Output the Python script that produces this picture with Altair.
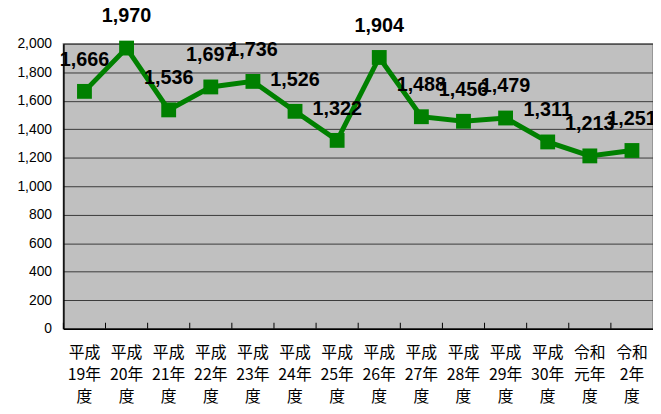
import altair as alt
import pandas as pd

categories = ["平成19年度", "平成20年度", "平成21年度", "平成22年度", "平成23年度",
              "平成24年度", "平成25年度", "平成26年度", "平成27年度", "平成28年度",
              "平成29年度", "平成30年度", "令和元年度", "令和2年度"]
values = [1666, 1970, 1536, 1697, 1736, 1526, 1322, 1904, 1488, 1456, 1479, 1311, 1213, 1251]
y_ticks = [0, 200, 400, 600, 800, 1000, 1200, 1400, 1600, 1800, 2000]

df = pd.DataFrame({"cat": categories, "val": values})

xscale = alt.Scale(type="band", paddingInner=0, paddingOuter=0)
yscale = alt.Scale(domain=[0, 2000], nice=False)

x_axis = alt.Axis(
    title=None, labelAngle=0, ticks=False, domainColor="#000000", domainWidth=1.5,
    labelFont="Noto Sans CJK JP", labelFontSize=16, labelColor="#000000",
    labelLineHeight=22.5, labelPadding=16, labelBaseline="top",
    labelExpr="[substring(datum.label,0,2), substring(datum.label,2,length(datum.label)-1), '度']",
)
y_axis = alt.Axis(
    title=None, values=y_ticks, format=",.0f", ticks=False, domainColor="#000000",
    domainWidth=1.5, gridColor="#3a3a3a", gridWidth=1, labelFont="Liberation Sans",
    labelFontSize=14, labelColor="#000000", labelPadding=12, labelOverlap=False,
)

x_enc = alt.X("cat:N", sort=None, scale=xscale, axis=x_axis)
y_enc = alt.Y("val:Q", scale=yscale, axis=y_axis)

base = alt.Chart(df)

line = base.mark_line(color="#008000", strokeWidth=5).encode(x=x_enc, y=y_enc)
pts = base.mark_point(shape="square", filled=True, size=225, color="#008000", opacity=1).encode(
    x=x_enc, y=y_enc
)
ticks = base.mark_rule(color="#000000", strokeWidth=1).encode(
    x=alt.X("cat:N", sort=None, scale=xscale, axis=x_axis, bandPosition=0),
    y=alt.value(282), y2=alt.value(288),
)
labels = base.mark_text(
    dy=-32, fontSize=20, fontWeight="bold", font="Liberation Sans", color="#000000", baseline="middle"
).encode(
    x=x_enc, y=y_enc,
    text=alt.Text("val:Q", format=","),
)

chart = alt.layer(line, ticks, pts, labels).properties(
    width=596, height=288,
    autosize=alt.AutoSizeParams(type="none"),
    padding={"left": 56, "top": 34, "right": 0, "bottom": 80},
    background="#ffffff",
).configure_view(fill="#C0C0C0", stroke="#8a8a8a", strokeWidth=1.5)

chart.save("out.html", embed_options={"renderer": "svg", "actions": False})
